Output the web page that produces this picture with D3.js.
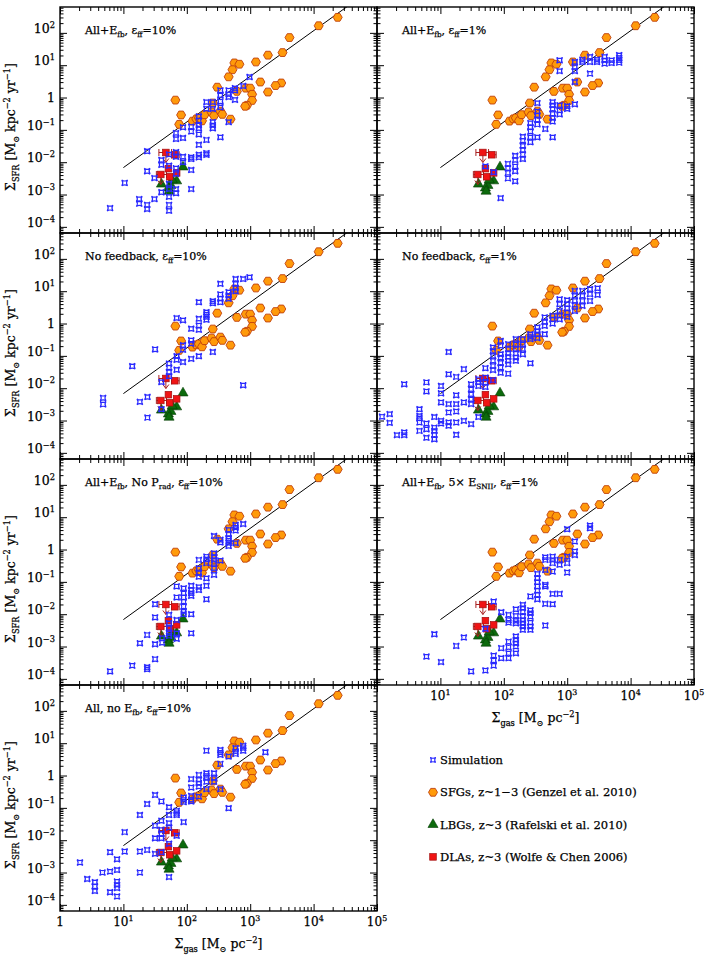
<!DOCTYPE html>
<html>
<head>
<meta charset="utf-8">
<script src="https://cdn.jsdelivr.net/npm/d3@7"></script>
<style>
  body { margin: 0; background: #fff; }
  text { font-family: "DejaVu Serif", "Liberation Serif", serif; fill: #000; stroke: #000; stroke-width: 0.25px; }
</style>
</head>
<body>
<div id="main_frame"></div>
<script>
// all points as [log10 Sigma_gas, log10 Sigma_SFR]

// Genzel et al. 2010 SFGs (same in every panel)
var genzel = [[4.38,2.48],[4.08,2.22],[3.62,1.855],[3.51,1.39],[3.28,1.31],[3.09,1.10],[2.75,1.07],[2.83,1.03],
  [2.72,0.86],[2.66,0.64],[3.16,0.48],[3.49,0.45],[3.40,0.37],[3.28,0.17],[2.48,0.32],[2.79,0.19],[2.93,0.29],
  [3.0,0.29],[3.03,0.10],[3.03,-0.09],[2.95,-0.24],[2.92,-0.27],[1.82,-0.08],[1.91,-0.54],[1.88,-0.83],
  [2.09,-0.73],[2.15,-0.66],[2.19,-0.63],[2.24,-0.72],[2.28,-0.53],[2.41,-0.17],[2.39,-0.45],[2.43,-0.56],
  [2.53,-0.42],[2.56,-0.52],[2.69,-0.67]];

// Rafelski et al. 2010 LBGs
var rafelski = [[1.94,-2.15],[1.84,-2.58],[1.75,-2.72],[1.71,-2.80],[1.72,-2.90],[1.60,-2.68],[1.77,-2.55]];

// Wolfe & Chen 2006 DLAs: logx, logy, logx low, logx high, upper limit
var wolfe = [[1.67,-1.70,1.56,1.76,1],[1.81,-1.77,1.76,1.88,0],[1.59,-2.38,1.52,1.68,1],
  [1.71,-2.20,0,0,0],[1.73,-2.45,0,0,0],[1.84,-2.33,0,0,0]];

// Kennicutt relation, two end points (real units)
var ksLine = [[10, 0.0068], [1e5, 3000]];

// simulation points, one list per panel
var simAllEfb10 = [[0.79,-3.42],[1.02,-2.64],[1.25,-3.14],[1.25,-3.28],[1.375,-3.32],[1.375,-3.45],[1.375,-2.28],
  [1.375,-1.66],[1.49,-2.49],[1.49,-3.14],[1.60,-1.93],[1.60,-2.08],[1.60,-2.93],[1.72,-1.76],[1.72,-2.11],
  [1.72,-2.67],[1.72,-2.83],[1.72,-3.07],[1.72,-3.32],[1.72,-3.50],[1.83,-1.10],[1.83,-1.28],[1.83,-1.69],
  [1.83,-1.83],[1.83,-2.19],[1.83,-2.36],[1.83,-2.83],[1.83,-2.96],[1.94,-1.83],[1.94,-2.00],[1.94,-0.92],
  [1.94,-1.25],[2.07,-0.90],[2.07,-1.05],[2.07,-1.85],[2.07,-1.90],[2.07,-2.24],[2.07,-2.83],[2.19,-0.585],
  [2.19,-0.71],[2.19,-0.86],[2.19,-0.95],[2.19,-1.14],[2.19,-1.46],[2.19,-1.77],[2.19,-1.85],[2.31,-0.14],
  [2.31,-0.35],[2.31,-1.31],[2.31,-1.72],[2.31,-1.77],[2.41,-0.14],[2.41,-0.35],[2.41,-0.76],[2.41,-0.86],
  [2.41,-0.95],[2.53,0.07],[2.53,-0.12],[2.53,-0.30],[2.53,-1.23],[2.53,0.22],[2.66,0.22],[2.66,0.015],
  [2.66,-0.76],[2.66,0.10],[2.76,0.29],[2.76,-0.07],[2.76,0.22],[2.89,0.36],[2.99,0.635]];

var simAllEfb1 = [[1.95,-3.11],[2.065,-2.05],[2.065,-2.19],[2.065,-2.33],[2.065,-2.50],[2.18,-1.80],[2.18,-1.93],
  [2.18,-2.13],[2.18,-2.28],[2.18,-2.59],[2.30,-1.21],[2.30,-1.33],[2.30,-1.49],[2.30,-1.62],[2.30,-1.76],
  [2.30,-1.90],[2.42,-0.79],[2.42,-0.92],[2.42,-1.05],[2.42,-1.23],[2.42,-1.38],[2.53,-0.17],[2.53,-0.43],
  [2.53,-0.55],[2.53,-0.69],[2.53,-0.83],[2.53,-1.23],[2.655,-0.97],[2.77,-0.14],[2.77,-0.24],[2.77,-0.35],
  [2.77,-0.50],[2.77,-0.63],[2.77,-0.74],[2.77,-1.23],[2.88,1.15],[2.88,0.82],[2.88,-0.24],[2.88,-0.40],
  [2.88,-0.52],[3.0,-0.27],[3.0,-0.35],[3.12,1.10],[3.12,0.945],[3.12,0.82],[3.12,0.48],[3.12,-0.21],
  [3.24,1.17],[3.24,1.10],[3.36,1.26],[3.36,1.10],[3.36,0.74],[3.47,1.10],[3.47,1.17],[3.59,1.26],[3.59,1.15],
  [3.59,1.05],[3.70,1.15],[3.70,1.07],[3.82,1.31],[3.82,1.23],[3.82,1.15],[3.82,1.08],[1.71,-2.13],[1.84,-2.31]];

var simNoFb10 = [[0.68,-2.30],[0.68,-2.50],[1.14,-1.32],[1.26,-2.42],[1.38,-2.27],[1.38,-2.91],[1.50,-0.80],
  [1.60,-1.81],[1.60,-2.65],[1.72,-1.24],[1.72,-1.36],[1.72,-1.50],[1.72,-1.63],[1.84,0.17],[1.84,-1.01],
  [1.84,-1.12],[1.84,-1.43],[1.94,0.10],[1.94,-0.67],[1.94,-0.81],[1.94,-1.19],[2.07,-0.16],[2.07,-0.52],
  [2.07,-0.62],[2.07,-1.09],[2.19,0.66],[2.19,0.15],[2.19,-0.06],[2.19,-0.19],[2.19,-1.01],[2.31,0.35],
  [2.31,0.28],[2.31,0.20],[2.31,0.12],[2.41,0.69],[2.41,0.63],[2.41,-0.88],[2.53,1.23],[2.53,0.90],[2.53,0.77],
  [2.53,0.66],[2.66,0.97],[2.66,0.87],[2.66,0.77],[2.77,1.38],[2.77,1.23],[2.77,1.10],[2.77,1.00],[2.89,1.38],
  [2.99,1.43],[2.89,-1.91]];

var simNoFb1 = [[0.08,-2.88],[0.20,-2.80],[0.20,-3.07],[0.315,-3.45],[0.43,-1.88],[0.43,-3.37],[0.43,-3.45],
  [0.67,-2.65],[0.67,-2.86],[0.67,-2.93],[0.67,-3.06],[0.67,-3.32],[0.78,-1.82],[0.78,-2.10],[0.78,-3.09],
  [0.78,-3.27],[0.78,-3.53],[0.905,-2.89],[0.905,-3.22],[0.905,-3.32],[0.905,-3.44],[0.905,-3.58],[1.01,-1.93],
  [1.01,-2.16],[1.01,-2.44],[1.01,-3.01],[1.01,-3.09],[1.13,-0.88],[1.13,-1.57],[1.13,-2.49],[1.13,-2.75],
  [1.13,-3.06],[1.13,-3.16],[1.25,-1.65],[1.25,-2.22],[1.25,-2.49],[1.25,-2.72],[1.25,-3.06],[1.25,-3.44],
  [1.37,-1.41],[1.37,-2.44],[1.37,-3.01],[1.485,-1.88],[1.485,-2.03],[1.485,-2.19],[1.485,-2.34],[1.485,-2.49],
  [1.485,-3.11],[1.60,-1.72],[1.60,-1.82],[1.60,-1.93],[1.60,-2.89],[1.71,-1.38],[1.71,-1.67],[1.71,-1.82],
  [1.71,-1.96],[1.83,-0.74],[1.83,-0.85],[1.83,-1.0],[1.83,-1.15],[1.83,-1.31],[1.83,-1.44],[1.83,-1.75],
  [1.95,-0.54],[1.95,-0.69],[1.95,-0.95],[1.95,-1.05],[1.95,-1.21],[1.95,-1.36],[1.95,-1.52],[2.07,-0.64],
  [2.07,-0.79],[2.07,-0.93],[2.07,-1.03],[2.07,-1.15],[2.07,-1.26],[2.07,-1.55],[2.19,-0.48],[2.19,-0.64],
  [2.19,-0.79],[2.19,-0.93],[2.19,-1.05],[2.19,-1.15],[2.30,-0.48],[2.30,-0.64],[2.30,-0.79],[2.30,-0.95],
  [2.42,-1.23],[2.42,-0.33],[2.42,-0.41],[2.42,-0.48],[2.53,-0.12],[2.53,-0.23],[2.53,-0.33],[2.53,-0.45],
  [2.645,0.19],[2.645,0.05],[2.645,-0.07],[2.645,-0.33],[2.77,0.24],[2.77,0.13],[2.77,0.0],[2.88,0.75],
  [2.88,0.60],[2.88,0.39],[2.88,0.24],[2.88,0.13],[3.0,0.72],[3.0,0.60],[3.0,0.47],[3.0,0.34],[3.0,0.21],
  [3.12,1.01],[3.12,0.86],[3.12,0.70],[3.12,0.58],[3.12,0.39],[3.24,1.01],[3.24,0.86],[3.24,0.70],[3.24,0.55],
  [3.36,1.06],[3.36,0.91],[3.36,0.70],[3.48,1.09],[3.48,0.89]];

var simNoPrad10 = [[0.79,-3.77],[1.14,-3.59],[1.26,-2.90],[1.375,-2.64],[1.375,-3.64],[1.375,-3.70],[1.50,-1.69],
  [1.50,-2.10],[1.50,-2.93],[1.50,-3.39],[1.61,-2.74],[1.61,-2.88],[1.72,-2.02],[1.72,-2.28],[1.72,-2.43],
  [1.72,-2.59],[1.72,-2.67],[1.84,-1.14],[1.84,-1.48],[1.84,-2.18],[1.84,-2.59],[1.84,-2.76],[1.95,-1.20],
  [1.95,-1.35],[1.95,-1.48],[1.95,-1.61],[1.95,-1.76],[1.95,-1.92],[1.95,-2.0],[2.07,-1.12],[2.07,-1.25],
  [2.07,-1.35],[2.07,-1.43],[2.07,-2.0],[2.07,-2.59],[2.19,-0.32],[2.19,-0.58],[2.19,-0.73],[2.19,-0.84],
  [2.19,-1.16],[2.19,-1.25],[2.31,-0.22],[2.31,-0.30],[2.31,-0.42],[2.31,-0.89],[2.31,-1.12],[2.31,-1.54],
  [2.43,0.42],[2.43,-0.12],[2.43,-0.22],[2.43,-0.32],[2.43,-0.42],[2.43,-0.58],[2.43,-0.78],[2.53,0.30],
  [2.53,0.22],[2.53,-0.34],[2.66,0.61],[2.66,0.48],[2.66,0.35],[2.66,0.28],[2.66,0.20],[2.66,0.11],[2.77,0.76],
  [2.77,0.68],[2.77,0.59],[2.77,0.20],[2.89,0.79]];

var sim5xSN1 = [[0.78,-3.31],[0.905,-2.62],[1.01,-3.48],[1.25,-2.98],[1.37,-2.72],[1.485,-3.77],[1.71,-3.74],
  [1.84,-1.61],[1.84,-3.28],[1.84,-3.43],[1.84,-3.59],[1.96,-1.94],[1.96,-3.05],[1.96,-3.36],[2.075,-2.02],
  [2.075,-2.18],[2.075,-2.26],[2.075,-2.85],[2.075,-3.02],[2.075,-3.21],[2.075,-3.36],[2.19,-1.85],[2.19,-2.05],
  [2.19,-2.20],[2.19,-2.28],[2.19,-2.69],[2.19,-2.79],[2.19,-2.90],[2.19,-3.0],[2.19,-3.21],[2.30,-1.71],
  [2.30,-1.81],[2.30,-1.92],[2.30,-2.07],[2.30,-2.18],[2.30,-2.28],[2.30,-2.38],[2.30,-2.48],[2.42,-1.45],
  [2.42,-1.88],[2.42,-1.97],[2.42,-2.07],[2.42,-2.26],[2.42,-2.38],[2.42,-2.48],[2.53,-0.75],[2.53,-0.89],
  [2.53,-1.01],[2.53,-1.14],[2.53,-1.27],[2.53,-1.40],[2.53,-1.54],[2.655,-0.24],[2.655,-0.32],[2.655,-0.63],
  [2.655,-1.09],[2.655,-1.14],[2.655,-1.68],[2.655,-2.35],[2.77,-0.22],[2.77,-0.32],[2.77,-0.42],[2.77,-0.68],
  [2.77,-1.37],[2.77,-1.69],[2.88,-0.32],[2.88,-0.47],[2.88,-1.37],[3.0,-0.22],[3.0,-0.42],[3.0,-0.71],
  [3.0,0.63],[3.12,0.25],[3.12,-0.06],[3.12,-0.17],[3.36,0.74],[3.36,0.66],[1.71,-2.45]];

var simNoEfb10 = [[0.315,-2.69],[0.43,-3.20],[0.55,-3.30],[0.55,-3.43],[0.55,-3.57],[0.67,-3.0],[0.79,-2.37],
  [0.79,-2.97],[0.79,-3.61],[0.90,-2.59],[0.90,-2.92],[0.90,-3.28],[0.90,-3.38],[0.90,-3.48],[0.90,-3.74],
  [1.02,-1.75],[1.02,-2.35],[1.26,-1.22],[1.26,-2.35],[1.26,-3.0],[1.375,-0.88],[1.375,-2.30],[1.50,-0.60],
  [1.50,-1.55],[1.50,-1.94],[1.50,-2.42],[1.60,-0.80],[1.60,-1.40],[1.60,-1.68],[1.60,-1.80],[1.60,-1.94],
  [1.60,-2.37],[1.72,-0.98],[1.72,-1.22],[1.72,-1.47],[1.72,-1.61],[1.72,-2.11],[1.72,-3.14],[1.84,-1.09],
  [1.84,-1.16],[1.84,-1.22],[1.84,-1.86],[1.95,-0.68],[1.95,-0.75],[1.95,-0.82],[1.95,-1.44],[2.07,-0.11],
  [2.07,-0.37],[2.07,-0.63],[2.07,-0.75],[2.07,-0.80],[2.19,0.02],[2.19,-0.13],[2.19,-0.24],[2.19,-0.34],
  [2.19,-0.65],[2.31,0.07],[2.31,-0.01],[2.31,-0.08],[2.31,-0.19],[2.31,-0.42],[2.31,0.77],[2.43,0.07],
  [2.43,-0.08],[2.43,-0.19],[2.53,0.79],[2.53,0.71],[2.53,0.64],[2.53,0.36],[2.53,-0.42],[2.66,0.59],
  [2.66,-1.01],[2.77,0.85],[2.77,0.74],[2.77,0.67],[2.89,0.92],[2.89,0.85],[2.89,0.77],[3.24,0.72]];

var simSets = [simAllEfb10, simAllEfb1, simNoFb10, simNoFb1, simNoPrad10, sim5xSN1, simNoEfb10];

// panel titles as [text, "" | "sub"] pieces
var panelTitles = [
  [["All+E",""],["fb","sub"],[",  \u03b5",""],["ff","sub"],["=10%",""]],
  [["All+E",""],["fb","sub"],[",  \u03b5",""],["ff","sub"],["=1%",""]],
  [["No feedback, \u03b5",""],["ff","sub"],["=10%",""]],
  [["No feedback, \u03b5",""],["ff","sub"],["=1%",""]],
  [["All+E",""],["fb","sub"],[", No P",""],["rad","sub"],[",  \u03b5",""],["ff","sub"],["=10%",""]],
  [["All+E",""],["fb","sub"],[",  5\u00d7 E",""],["SNII","sub"],[",  \u03b5",""],["ff","sub"],["=1%",""]],
  [["All, no E",""],["fb","sub"],[",  \u03b5",""],["ff","sub"],["=10%",""]]
];

var legendLabels = ["Simulation", "SFGs, z~1\u22123 (Genzel et al. 2010)",
  "LBGs, z~3 (Rafelski et al. 2010)", "DLAs, z~3 (Wolfe & Chen 2006)"];

var yTitle = [["\u03a3",""],["SFR","sub"],[" [M",""],["\u2299","sub"],[" kpc",""],["\u22122","sup"],[" yr",""],["\u22121","sup"],["]",""]];
var xTitle = [["\u03a3",""],["gas","sub"],[" [M",""],["\u2299","sub"],[" pc",""],["\u22122","sup"],["]",""]];

var width = 707, height = 955;
var panelW = 317, panelH = 226;
var colX = [60, 377];
var rowY0 = 7;

var svg = d3.select("#main_frame").append("svg")
  .attr("width", width).attr("height", height);

var x = d3.scaleLog().domain([1, 1e5]).range([0, panelW]);
var y = d3.scaleLog().domain([Math.pow(10, -4.19), Math.pow(10, 2.8)]).range([panelH, 0]);
var p10 = function(v) { return Math.pow(10, v); };

// write text with sub/superscript pieces
function richText(sel, pieces, size) {
  var shift = 0;
  pieces.forEach(function(p) {
    var t = sel.append("tspan").text(p[0]);
    var target = p[1] == "sub" ? size * 0.3 : (p[1] == "sup" ? -size * 0.4 : 0);
    t.attr("dy", target - shift);
    if (p[1]) t.attr("font-size", size * 0.66);
    shift = target;
  });
}

function hexPath(r) {
  return d3.line()(d3.range(6).map(function(i) {
    var a = i * Math.PI / 3;
    return [r * Math.cos(a), r * Math.sin(a)];
  })) + "Z";
}
function starPath(s) {
  var c = s * 0.3;
  return "M" + (-s) + "," + (-s) + "Q0," + (-c) + " " + s + "," + (-s) +
         "Q" + c + ",0 " + s + "," + s + "Q0," + c + " " + (-s) + "," + s +
         "Q" + (-c) + ",0 " + (-s) + "," + (-s) + "Z";
}
var triPath = d3.symbol(d3.symbolTriangle, 44)();

var decades = d3.range(0, 6).map(p10);
var minorX = [];
d3.range(0, 5).forEach(function(e) { d3.range(2, 10).forEach(function(k) { minorX.push(k * p10(e)); }); });
var ydec = d3.range(-4, 3).map(p10);
var minorY = [];
d3.range(-5, 3).forEach(function(e) { d3.range(2, 10).forEach(function(k) {
  var v = k * p10(e);
  if (v > y.domain()[0] && v < y.domain()[1]) minorY.push(v);
}); });

function tickLabel(sel, v, size) {
  var e = Math.round(Math.log10(v));
  if (e == 0) { sel.text("1"); return; }
  richText(sel, [["10",""],[String(e).replace("-", "\u2212"),"sup"]], size);
}

function drawTicks(g, axis, sc, pos, values, len) {
  var ag = g.append("g").attr("transform", pos).call(axis(sc).tickValues(values).tickSize(len).tickFormat(""));
  ag.select(".domain").remove();
  ag.selectAll("line").attr("stroke", "#000").attr("stroke-width", 1);
}

simSets.forEach(function(sim, i) {
  var col = i % 2, row = Math.floor(i / 2);
  var g = svg.append("g")
    .attr("transform", "translate(" + colX[col] + "," + (rowY0 + row * panelH) + ")");

  var clipId = "clip" + i;
  svg.append("clipPath").attr("id", clipId)
    .append("rect").attr("width", panelW).attr("height", panelH);

  // ticks, inward on all four sides
  drawTicks(g, d3.axisBottom, x, "translate(0,0)", decades, 7);
  drawTicks(g, d3.axisBottom, x, "translate(0,0)", minorX, 4);
  drawTicks(g, d3.axisTop, x, "translate(0," + panelH + ")", decades, 7);
  drawTicks(g, d3.axisTop, x, "translate(0," + panelH + ")", minorX, 4);
  drawTicks(g, d3.axisRight, y, "translate(0,0)", ydec, 7);
  drawTicks(g, d3.axisRight, y, "translate(0,0)", minorY, 3.5);
  drawTicks(g, d3.axisLeft, y, "translate(" + panelW + ",0)", ydec, 7);
  drawTicks(g, d3.axisLeft, y, "translate(" + panelW + ",0)", minorY, 3.5);

  g.append("rect").attr("width", panelW).attr("height", panelH)
    .attr("fill", "none").attr("stroke", "#000").attr("stroke-width", 1.4);

  // Kennicutt line
  g.append("path").datum(ksLine)
    .attr("clip-path", "url(#" + clipId + ")")
    .attr("d", d3.line().x(function(d) { return x(d[0]); }).y(function(d) { return y(d[1]); }))
    .attr("fill", "none").attr("stroke", "#000").attr("stroke-width", 1);

  // SFGs
  g.selectAll("path.sfg").data(genzel).enter().append("path").attr("class", "sfg")
    .attr("d", hexPath(4.5))
    .attr("transform", function(d) { return "translate(" + x(p10(d[0])) + "," + y(p10(d[1])) + ")"; })
    .attr("fill", "#ff9a0a").attr("stroke", "#c0400c").attr("stroke-width", 0.9);

  // LBGs
  g.selectAll("path.lbg").data(rafelski).enter().append("path").attr("class", "lbg")
    .attr("d", triPath)
    .attr("transform", function(d) { return "translate(" + x(p10(d[0])) + "," + y(p10(d[1])) + ")"; })
    .attr("fill", "#0c6a0c").attr("stroke", "#053d05").attr("stroke-width", 0.6);

  // DLAs with error bars and upper limit arrows
  var dl = g.selectAll("g.dla").data(wolfe).enter().append("g").attr("class", "dla");
  dl.filter(function(d) { return d[2] > 0; }).each(function(d) {
    var s = d3.select(this), yy = y(p10(d[1])), x1 = x(p10(d[2])), x2 = x(p10(d[3]));
    s.append("path").attr("d", "M" + x1 + "," + yy + "H" + x2 + "M" + x1 + "," + (yy - 3.5) + "V" + (yy + 3.5) +
      "M" + x2 + "," + (yy - 3.5) + "V" + (yy + 3.5))
      .attr("stroke", "#a82020").attr("stroke-width", 1).attr("fill", "none");
  });
  dl.filter(function(d) { return d[4] == 1; }).each(function(d) {
    var s = d3.select(this), xx = x(p10(d[0])), yy = y(p10(d[1]));
    s.append("path").attr("d", "M" + xx + "," + yy + "V" + (yy + 10) + "M" + (xx - 3) + "," + (yy + 6) +
      "L" + xx + "," + (yy + 10) + "L" + (xx + 3) + "," + (yy + 6))
      .attr("stroke", "#a82020").attr("stroke-width", 1).attr("fill", "none");
  });
  dl.append("rect")
    .attr("x", function(d) { return x(p10(d[0])) - 3.3; })
    .attr("y", function(d) { return y(p10(d[1])) - 3.3; })
    .attr("width", 6.6).attr("height", 6.6)
    .attr("fill", "#f01414").attr("stroke", "#a01010").attr("stroke-width", 0.7);

  // simulation
  g.selectAll("path.sim").data(sim).enter().append("path").attr("class", "sim")
    .attr("d", starPath(2.9))
    .attr("transform", function(d) { return "translate(" + x(p10(d[0])) + "," + y(p10(d[1])) + ")"; })
    .attr("fill", "none").attr("stroke", "#2a2aff").attr("stroke-width", 1.2);

  // title
  richText(g.append("text").attr("x", 25).attr("y", 27).attr("font-size", 11), panelTitles[i], 11);

  // y tick labels and title on left panels
  if (col == 0) {
    ydec.forEach(function(v) {
      var t = g.append("text").attr("x", -5).attr("y", y(v)).attr("dy", "0.35em")
        .attr("text-anchor", "end").attr("font-size", 12.5);
      tickLabel(t, v, 12.5);
    });
    var yt = g.append("text").attr("text-anchor", "middle").attr("font-size", 12.5)
      .attr("transform", "translate(-45," + (panelH / 2 + 7) + ") rotate(-90)");
    richText(yt, yTitle, 12.5);
  }

  // x tick labels and title on the lowest panel of each column
  if (i == 5 || i == 6) {
    decades.forEach(function(v) {
      if (i == 5 && v == 1) return;
      var t = g.append("text").attr("x", x(v)).attr("y", panelH + 15)
        .attr("text-anchor", "middle").attr("font-size", 12);
      tickLabel(t, v, 12);
    });
    var xt = g.append("text").attr("x", panelW / 2).attr("y", panelH + 37)
      .attr("text-anchor", "middle").attr("font-size", 12.5);
    richText(xt, xTitle, 12.5);
  }
});

// legend
var leg = svg.append("g").attr("transform", "translate(433,760)");
legendLabels.forEach(function(lab, i) {
  var r = leg.append("g").attr("transform", "translate(0," + (i * 32.3) + ")");
  if (i == 0) r.append("path").attr("d", starPath(2.6)).attr("fill", "none").attr("stroke", "#2a2aff").attr("stroke-width", 1.1);
  if (i == 1) r.append("path").attr("d", hexPath(4.5)).attr("fill", "#ff9a0a").attr("stroke", "#c0400c").attr("stroke-width", 0.9);
  if (i == 2) r.append("path").attr("d", triPath).attr("fill", "#0c6a0c").attr("stroke", "#053d05").attr("stroke-width", 0.6);
  if (i == 3) r.append("rect").attr("x", -3.3).attr("y", -3.3).attr("width", 6.6).attr("height", 6.6)
    .attr("fill", "#f01414").attr("stroke", "#a01010").attr("stroke-width", 0.7);
  r.append("text").attr("x", 7).attr("y", 0).attr("dy", "0.35em").attr("font-size", 11.5).text(lab);
});
</script>
</body>
</html>
